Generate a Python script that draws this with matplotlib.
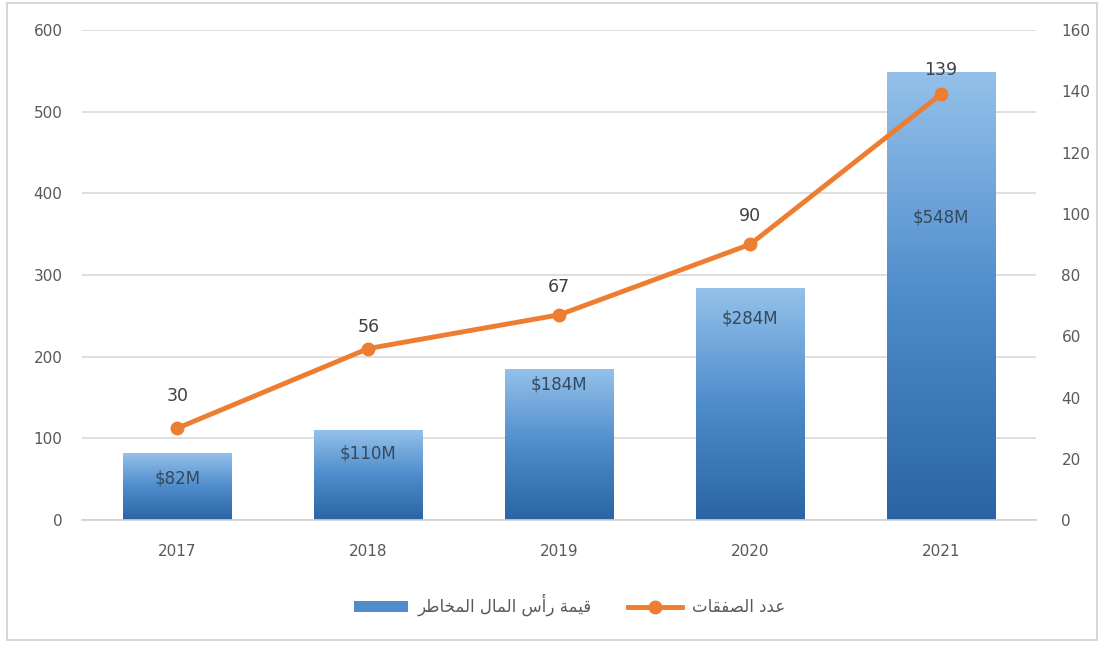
import numpy as np
import matplotlib.pyplot as plt
from matplotlib.colors import LinearSegmentedColormap
from matplotlib.patches import Rectangle, Patch
from matplotlib.lines import Line2D

years = ["2017", "2018", "2019", "2020", "2021"]
vc_value = [82, 110, 184, 284, 548]      # venture capital, $M
deal_count = [30, 56, 67, 90, 139]       # number of deals

left_ticks = [0, 100, 200, 300, 400, 500, 600]
right_ticks = [0, 20, 40, 60, 80, 100, 120, 140, 160]

# Arabic legend text in presentation forms, reversed into visual order
label_vc = "\uFED7\uFEF4\uFEE4\uFE94 \uFEAD\uFE83\uFEB1 \uFE8D\uFEDF\uFEE4\uFE8E\uFEDD \uFE8D\uFEDF\uFEE4\uFEA8\uFE8E\uFEC3\uFEAE"[::-1]
label_deals = "\uFECB\uFEAA\uFEA9 \uFE8D\uFEDF\uFEBC\uFED4\uFED8\uFE8E\uFE95"[::-1]

ORANGE = "#ed7d31"
TICK_GRAY = "#595959"
LABEL_GRAY = "#404040"
blues = LinearSegmentedColormap.from_list("bar_blue", ["#2a64a4", "#4f8ccc", "#94c1ea"])

plt.rcParams["font.family"] = ["DejaVu Sans"]

fig = plt.figure(figsize=(11.04, 6.48), dpi=100)
fig.patches.append(Rectangle((0.006, 0.012), 0.988, 0.984, transform=fig.transFigure,
                             fill=False, edgecolor="#d0d0d0", linewidth=1.2))

ax = fig.add_axes([0.0743, 0.1975, 0.8645, 0.7562])
x = np.arange(len(years))
bars = ax.bar(x, vc_value, width=0.57, color="none", zorder=2)

# vertical gradient fill for each bar
grad = np.linspace(0, 1, 256).reshape(-1, 1)
for b in bars:
    x0, y0 = b.get_x(), b.get_y()
    ax.imshow(grad, extent=[x0, x0 + b.get_width(), y0, y0 + b.get_height()],
              origin="lower", aspect="auto", cmap=blues, zorder=2)

ax.set_xlim(-0.5, len(years) - 0.5)
ax.set_ylim(0, 600)
ax.set_yticks(left_ticks)
ax.set_xticks(x)
ax.set_xticklabels(years)
ax.grid(axis="y", color="#d9d9d9", linewidth=1.2, zorder=0)
ax.set_axisbelow(True)
for s in ["top", "right", "left"]:
    ax.spines[s].set_visible(False)
ax.spines["bottom"].set_color("#d0d0d0")
ax.spines["bottom"].set_linewidth(1.2)
ax.tick_params(axis="both", length=0, colors=TICK_GRAY, labelsize=11)
ax.tick_params(axis="x", pad=17)
ax.tick_params(axis="y", pad=14)

# value labels inside the bars (pixel offsets below the bar top)
bar_label_drop = [25, 23, 15, 30, 145]
for xi, v, d in zip(x, vc_value, bar_label_drop):
    ax.annotate(f"${v}M", (xi, v), xytext=(0, -d * 0.72), textcoords="offset points",
                ha="center", va="center", fontsize=12, color="#34495e", zorder=4)

ax2 = ax.twinx()
ax2.plot(x, deal_count, color=ORANGE, linewidth=3.5, marker="o", markersize=9,
         solid_capstyle="round", zorder=5)
ax2.set_ylim(0, 160)
ax2.set_yticks(right_ticks)
for s in ["top", "right", "left", "bottom"]:
    ax2.spines[s].set_visible(False)
ax2.tick_params(axis="y", length=0, colors=TICK_GRAY, labelsize=11, pad=18)

line_label_rise = [32, 22, 28, 28, 24]
for xi, v, r in zip(x, deal_count, line_label_rise):
    ax2.annotate(str(v), (xi, v), xytext=(0, r * 0.72), textcoords="offset points",
                 ha="center", va="center", fontsize=12.5, color=LABEL_GRAY, zorder=6)

handles = [
    Patch(facecolor="#4f8ccc", edgecolor="none"),
    Line2D([0], [0], color=ORANGE, linewidth=3.5, marker="o", markersize=9),
]
fig.legend(handles, [label_vc, label_deals], loc="center",
           bbox_to_anchor=(0.516, 0.066), ncol=2, frameon=False,
           fontsize=12, labelcolor=TICK_GRAY, handlelength=3.2,
           handleheight=0.6, columnspacing=2.2, handletextpad=0.6)

fig.savefig("out.png", dpi=100)
